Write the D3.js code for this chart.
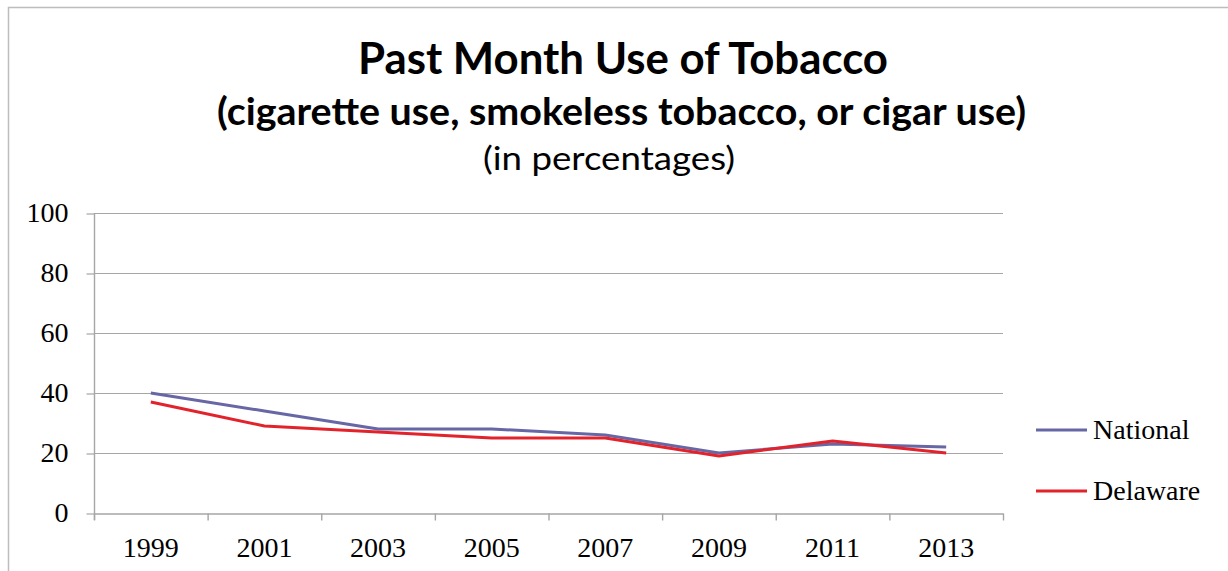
<!DOCTYPE html>
<html>
<head>
<meta charset="utf-8">
<script src="https://cdn.jsdelivr.net/npm/d3@7"></script>
<style>
  html, body { margin: 0; padding: 0; background: #ffffff; }
  svg { display: block; }
</style>
</head>
<body>
<svg id="chart" width="1228" height="571"></svg>
<script>
// ---- data ----
const years = ["1999", "2001", "2003", "2005", "2007", "2009", "2011", "2013"];
const nationalValues = [40, 34, 28, 28, 26, 20, 23, 22];
const delawareValues = [37, 29, 27, 25, 25, 19, 24, 20];
const seriesNames = ["National", "Delaware"];
const yTickValues = [0, 20, 40, 60, 80, 100];
const titleLines = [
  "Past Month Use of Tobacco",
  "(cigarette use, smokeless tobacco, or cigar use)",
  "(in percentages)"
];

// ---- layout ----
const W = 1228, H = 571;
const plot = { left: 94, right: 1003, top: 213, bottom: 513 };
const colors = { National: "#6767a6", Delaware: "#e3232c" };
const gridColor = "#a6a6a6";
const serif = "'Liberation Serif', 'Times New Roman', serif";
const sans = "Lato, 'Open Sans', 'Noto Sans', sans-serif";

const svg = d3.select("#chart");
svg.append("rect").attr("width", W).attr("height", H).attr("fill", "#fff");

// outer frame (only top and left visible)
svg.append("path")
  .attr("d", `M8.5,${H} L8.5,7.5 L${W},7.5`)
  .attr("fill", "none").attr("stroke", "#bdbdbd").attr("stroke-width", 1.5);

// ---- titles ----
const titleSpecs = [
  { text: titleLines[0], size: 43, weight: 700, y: 74, x0: 358, x1: 888 },
  { text: titleLines[1], size: 38, weight: 700, y: 125, x0: 217, x1: 1026 },
  { text: titleLines[2], size: 32, weight: 400, y: 170, x0: 483, x1: 735 }
];
titleSpecs.forEach(s => {
  svg.append("text")
    .attr("x", (s.x0 + s.x1) / 2)
    .attr("y", s.y)
    .attr("text-anchor", "middle")
    .attr("font-family", sans)
    .attr("font-size", s.size)
    .attr("font-weight", s.weight)
    .attr("fill", "#000")
    .attr("textLength", s.x1 - s.x0)
    .attr("lengthAdjust", "spacingAndGlyphs")
    .text(s.text);
});

// ---- scales ----
const x = d3.scaleBand().domain(years).range([plot.left, plot.right]);
const xEdge = d3.scaleLinear().domain([0, years.length]).range([plot.left, plot.right]);
const y = d3.scaleLinear().domain([0, 100]).range([plot.bottom, plot.top]);

// gridlines
svg.append("g")
  .selectAll("line")
  .data(yTickValues.filter(v => v > 0))
  .join("line")
  .attr("x1", plot.left).attr("x2", plot.right)
  .attr("y1", d => y(d) + 0.5).attr("y2", d => y(d) + 0.5)
  .attr("stroke", gridColor).attr("stroke-width", 1.2);

// y axis
const yAxis = svg.append("g")
  .attr("transform", `translate(${plot.left + 0.5},0)`)
  .call(d3.axisLeft(y).tickValues(yTickValues).tickSize(8).tickPadding(18).tickSizeOuter(0));
yAxis.select(".domain").remove();
yAxis.selectAll(".tick line").attr("stroke", gridColor).attr("stroke-width", 1.2)
  .attr("transform", "translate(0,0.5)");
yAxis.selectAll(".tick text")
  .attr("font-family", serif).attr("font-size", 28).attr("fill", "#000");
yAxis.append("line")
  .attr("x1", 0).attr("x2", 0)
  .attr("y1", plot.top).attr("y2", plot.bottom + 7)
  .attr("stroke", gridColor).attr("stroke-width", 1.4);

// x axis: boundary ticks
const xTicks = svg.append("g")
  .attr("transform", `translate(0,${plot.bottom + 0.5})`)
  .call(d3.axisBottom(xEdge).tickValues(d3.range(years.length + 1)).tickFormat("").tickSize(7).tickSizeOuter(0));
xTicks.select(".domain").attr("stroke", gridColor).attr("stroke-width", 1.4);
xTicks.selectAll(".tick line").attr("stroke", gridColor).attr("stroke-width", 1.4);

// x axis: labels
const xLabels = svg.append("g")
  .attr("transform", `translate(0,${plot.bottom})`)
  .call(d3.axisBottom(x).tickSize(0).tickPadding(24));
xLabels.select(".domain").remove();
xLabels.selectAll(".tick text")
  .attr("font-family", serif).attr("font-size", 28).attr("fill", "#000");

// ---- lines ----
const series = [
  { name: seriesNames[0], values: nationalValues },
  { name: seriesNames[1], values: delawareValues }
];
const line = d3.line()
  .x((d, i) => x(years[i]) + x.bandwidth() / 2)
  .y(d => y(d));
svg.append("g")
  .selectAll("path")
  .data(series)
  .join("path")
  .attr("d", d => line(d.values))
  .attr("fill", "none")
  .attr("stroke", d => colors[d.name])
  .attr("stroke-width", 3)
  .attr("stroke-linejoin", "round");

// ---- legend ----
const legend = svg.append("g");
const legendY = [430, 491];
series.forEach((s, i) => {
  legend.append("line")
    .attr("x1", 1036).attr("x2", 1087)
    .attr("y1", legendY[i]).attr("y2", legendY[i])
    .attr("stroke", colors[s.name]).attr("stroke-width", 3);
  legend.append("text")
    .attr("x", 1093).attr("y", legendY[i] + 9)
    .attr("font-family", serif).attr("font-size", 28).attr("fill", "#000")
    .text(s.name);
});
</script>
</body>
</html>
